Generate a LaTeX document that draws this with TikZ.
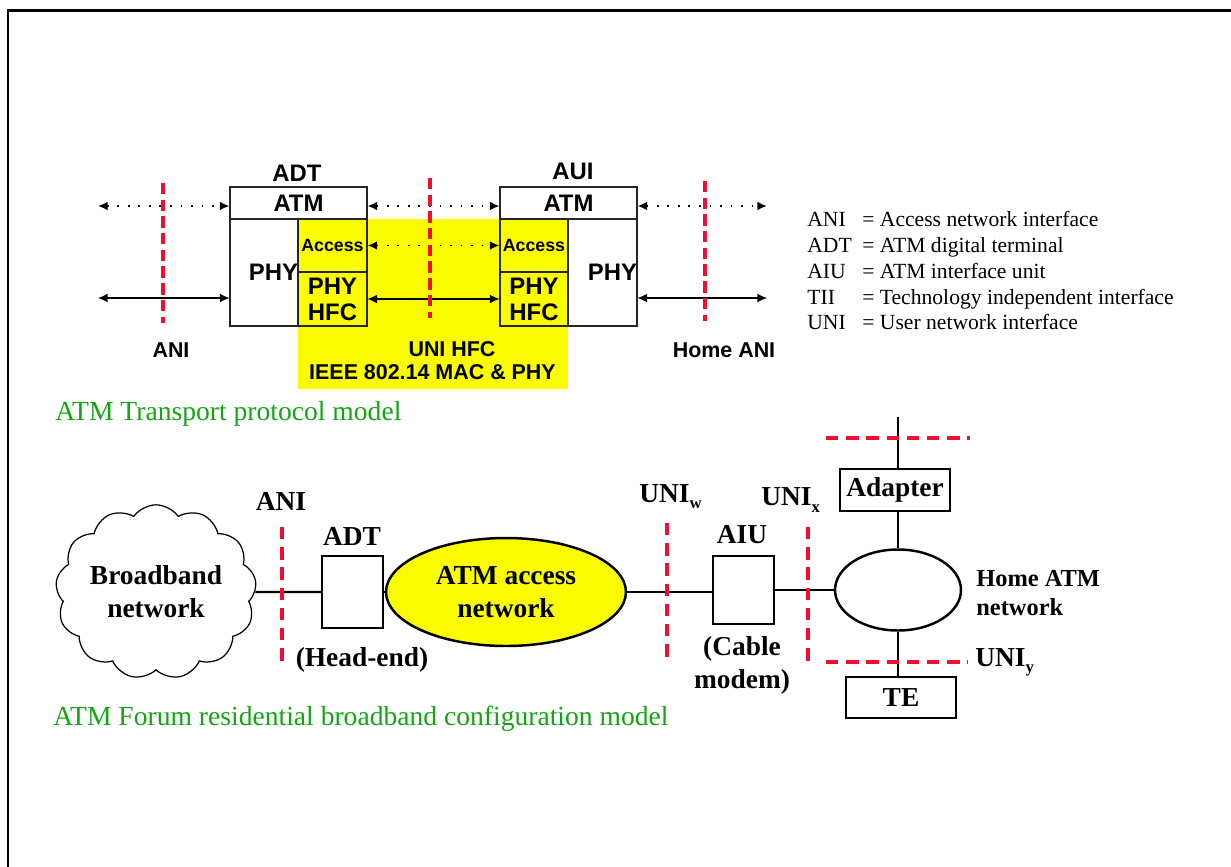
\documentclass[tikz,border=0pt]{standalone}
\usepackage{fontspec}
\setmainfont{Liberation Serif}
\newfontfamily\arialfont{Liberation Sans}
\usetikzlibrary{shapes.geometric,shapes.symbols,arrows.meta}
\definecolor{hfcyellow}{RGB}{250,250,0}
\definecolor{cutred}{RGB}{240,15,50}
\definecolor{titlegreen}{RGB}{20,165,20}
\newcommand{\lowsub}[1]{\raisebox{-3.5pt}{\fontsize{9.5}{10}\selectfont #1}}

\begin{document}
\begin{tikzpicture}[x=0.02cm, y=-0.02cm,
    layer/.style={draw=black!85, line width=0.6pt, rectangle, inner sep=0pt,
      font=\arialfont\bfseries\fontsize{13.6}{14.7}\selectfont},
    bigsans/.style={font=\arialfont\bfseries\fontsize{13.6}{14.7}\selectfont},
    midsans/.style={font=\arialfont\bfseries\fontsize{12.2}{13.6}\selectfont, align=center},
    dotarrow/.style={{Latex[length=5.5pt,width=5pt]}-{Latex[length=5.5pt,width=5pt]},
      line width=1pt, dash pattern=on 1pt off 5pt},
    solidarrow/.style={{Latex[length=5.5pt,width=5pt]}-{Latex[length=5.5pt,width=5pt]},
      line width=0.6pt},
    topcut/.style={draw=cutred, line width=2pt, dash pattern=on 6.5pt off 3pt},
    cut/.style={draw=cutred, line width=2pt, dash pattern=on 7pt off 4.5pt},
    boxb/.style={draw, rectangle, line width=1.4pt, inner sep=0pt,
      font=\bfseries\fontsize{15.6}{18.7}\selectfont},
    lbl/.style={font=\bfseries\fontsize{15.6}{18.7}\selectfont, inner sep=0pt},
    link/.style={line width=1.4pt},
    caption/.style={anchor=west, inner sep=0pt, text=titlegreen,
      font=\fontsize{15.7}{18}\selectfont}]
  \useasboundingbox (0,0) rectangle (1231,866);
  % page frame
  \draw[line width=1.7pt, line join=miter] (8,870) -- (8,10.5) -- (1240,10.5);

  % transport protocol model
  \fill[hfcyellow] (298,219) rectangle (568,389);
  \node[bigsans] (adttitle) at (297,173) {ADT};
  \node[layer, minimum width=2.74cm, minimum height=0.64cm] (adtatm) at (298.5,203) {ATM};
  \node[layer, minimum width=1.36cm, minimum height=2.14cm, text width=1.36cm, align=right] (adtphy) at (264,272.5) {PHY};
  \node[layer, fill=hfcyellow, minimum width=1.38cm, minimum height=1.06cm,
    font=\arialfont\bfseries\fontsize{10.1}{12}\selectfont] (adtacc) at (332.5,245.5) {Access};
  \node[layer, fill=hfcyellow, minimum width=1.38cm, minimum height=1.08cm, align=center] (adthfc) at (332.5,299) {PHY\\HFC};

  \node[bigsans] (auititle) at (573,171) {AUI};
  \node[layer, minimum width=2.74cm, minimum height=0.64cm] (auiatm) at (568.5,203) {ATM};
  \node[layer, fill=hfcyellow, minimum width=1.36cm, minimum height=1.06cm,
    font=\arialfont\bfseries\fontsize{10.1}{12}\selectfont] (auiacc) at (534,245.5) {Access};
  \node[layer, fill=hfcyellow, minimum width=1.36cm, minimum height=1.08cm, align=center] (auihfc) at (534,299) {PHY\\HFC};
  \node[layer, minimum width=1.38cm, minimum height=2.14cm, text width=1.38cm, align=right] (auiphy) at (602.5,272.5) {PHY};

  \coordinate (atmfar) at (98,206);
  \coordinate (atmhome) at (767,206);
  \coordinate (phyfar) at (98,298);
  \coordinate (phyhome) at (767,298);
  \draw[dotarrow] (atmfar) -- (atmfar -| adtatm.west);
  \draw[dotarrow] (adtatm.east |- atmfar) -- (atmfar -| auiatm.west);
  \draw[dotarrow] (auiatm.east |- atmhome) -- (atmhome);
  \draw[dotarrow] (adtacc) -- (auiacc);
  \draw[solidarrow] (phyfar) -- (phyfar -| adtphy.west);
  \draw[solidarrow] (adthfc) -- (auihfc);
  \draw[solidarrow] (auiphy.east |- phyhome) -- (phyhome);

  \draw[topcut] (163,183) -- (163,323);
  \draw[topcut] (430,178) -- (430,318);
  \draw[topcut] (705,181) -- (705,321);

  \node[midsans] (anitop) at (171,350) {ANI};
  \node[midsans] (unihfc) at (452,349) {UNI HFC};
  \node[midsans] (ieee) at (432.5,372) {IEEE 802.14 MAC \& PHY};
  \node[midsans] (homeani) at (724,350) {Home ANI};

  \node[anchor=north west, align=left, inner sep=0pt, font=\fontsize{12.3}{14.7}\selectfont] (legend) at (807,211)
    {\makebox[1.1cm][l]{ANI}= Access network interface\\
     \makebox[1.1cm][l]{ADT}= ATM digital terminal\\
     \makebox[1.1cm][l]{AIU}= ATM interface unit\\
     \makebox[1.1cm][l]{TII}= Technology independent interface\\
     \makebox[1.1cm][l]{UNI}= User network interface};

  \node[caption] (transportcap) at (55,414) {ATM Transport protocol model};

  % residential broadband configuration model
  \node[cloud, draw, line width=0.7pt, cloud puffs=13, cloud puff arc=110, aspect=1.2,
    minimum width=3.9cm, minimum height=3.2cm, inner sep=0pt, align=center,
    font=\bfseries\fontsize{15.6}{18.7}\selectfont] (bbnet) at (156,592) {Broadband\\network};
  \node[boxb, minimum width=1.22cm, minimum height=1.44cm] (adtbox) at (352.5,592) {};
  \node[ellipse, draw, fill=hfcyellow, line width=1.4pt, minimum width=4.8cm, minimum height=2.16cm,
    inner sep=0pt, align=center, font=\bfseries\fontsize{15.6}{18.7}\selectfont] (accnet) at (506,592) {ATM access\\network};
  \node[boxb, minimum width=1.22cm, minimum height=1.36cm] (aiubox) at (743.5,590) {};
  \node[ellipse, draw, line width=1.4pt, minimum width=2.52cm, minimum height=1.62cm] (homenet) at (898,590) {};
  \node[boxb, minimum width=2.2cm, minimum height=0.84cm] (adapter) at (895,490) {Adapter};
  \node[boxb, minimum width=2.2cm, minimum height=0.82cm] (tebox) at (901,697.5) {TE};
  \coordinate (uplink) at (898,417);

  \draw[link] (bbnet) -- (adtbox);
  \draw[link] (adtbox) -- (accnet);
  \draw[link] (accnet) -- (accnet -| aiubox.west);
  \draw[link] (aiubox) -- (homenet);
  \draw[link] (uplink) -- (uplink |- adapter.north);
  \draw[link] (homenet.north |- adapter.south) -- (homenet.north);
  \draw[link] (homenet.south) -- (homenet.south |- tebox.north);

  \draw[cut] (282,527) -- (282,667);
  \draw[cut] (667,523) -- (667,662);
  \draw[cut] (808,527) -- (808,662);
  \draw[cut] (826,438) -- (970,438);
  \draw[cut] (826,662) -- (968,662);

  \node[lbl] (anib) at (281,501) {ANI};
  \node[lbl] (adtb) at (352,536) {ADT};
  \node[lbl] (headend) at (362,660) {(Head-end)};
  \node[lbl] (aiub) at (742,535) {AIU};
  \node[lbl, align=center] (cablemodem) at (742,665) {(Cable\\modem)};
  \node[lbl, anchor=west] (uniw) at (639,497) {UNI\lowsub{w}};
  \node[lbl, anchor=west] (unix) at (761,500) {UNI\lowsub{x}};
  \node[lbl, anchor=west] (uniy) at (975,662) {UNI\lowsub{y}};
  \node[lbl, anchor=west, align=left, font=\bfseries\fontsize{13.9}{17}\selectfont] (homelbl) at (976,593) {Home ATM\\network};

  \node[caption] (forumcap) at (53,719) {ATM Forum residential broadband configuration model};
\end{tikzpicture}
\end{document}
